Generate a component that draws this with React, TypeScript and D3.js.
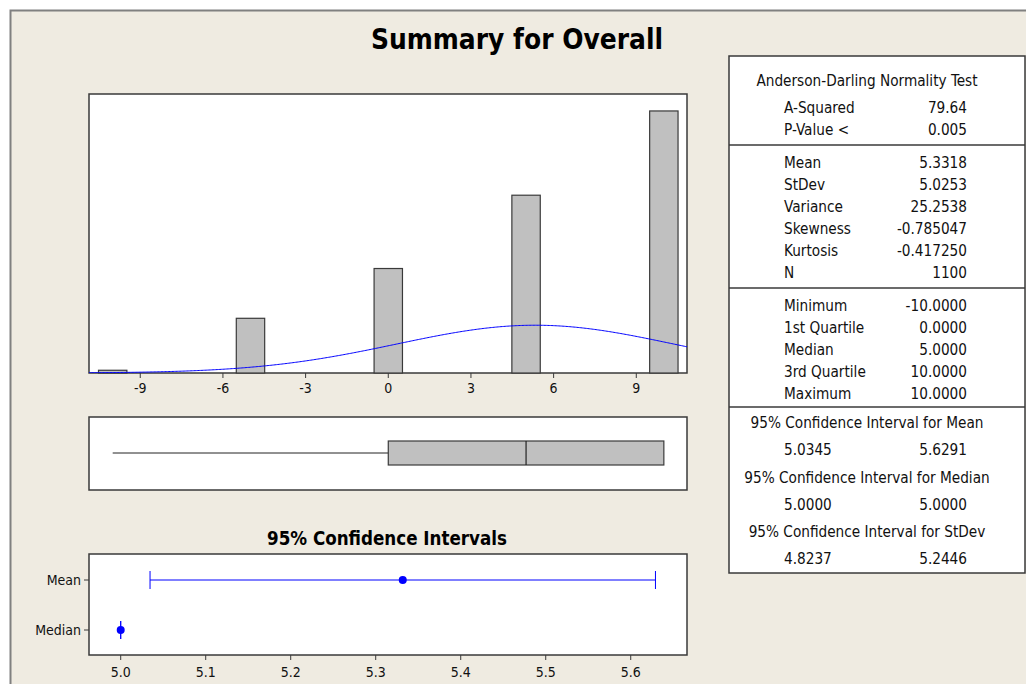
import React from "react";
import * as d3 from "d3";

// ---------- data ----------
const histBins = [-10, -5, 0, 5, 10];
const histCounts = [5, 100, 191, 325, 479];
const histTicks = [-9, -6, -3, 0, 3, 6, 9];
const fitMean = 5.3318;
const fitSd = 5.0253;
const sampleN = 1100;

const boxMin = -10;
const boxQ1 = 0;
const boxMedian = 5;
const boxQ3 = 10;
const boxMax = 10;

const ciCategories = ["Mean", "Median"];
const ciLower = [5.0345, 5.0];
const ciUpper = [5.6291, 5.0];
const ciPoint = [5.3318, 5.0];
const ciTicks = [5.0, 5.1, 5.2, 5.3, 5.4, 5.5, 5.6];

const adTitle = "Anderson-Darling Normality Test";
const adLabels = ["A-Squared", "P-Value <"];
const adValues = ["79.64", "0.005"];
const descLabels = ["Mean", "StDev", "Variance", "Skewness", "Kurtosis", "N"];
const descValues = ["5.3318", "5.0253", "25.2538", "-0.785047", "-0.417250", "1100"];
const quartLabels = ["Minimum", "1st Quartile", "Median", "3rd Quartile", "Maximum"];
const quartValues = ["-10.0000", "0.0000", "5.0000", "10.0000", "10.0000"];
const ciTableTitles = [
  "95% Confidence Interval for Mean",
  "95% Confidence Interval for Median",
  "95% Confidence Interval for StDev",
];
const ciTableLower = ["5.0345", "5.0000", "4.8237"];
const ciTableUpper = ["5.6291", "5.0000", "5.2446"];

// ---------- style ----------
const FONT = "'DejaVu Sans Condensed', 'DejaVu Sans', sans-serif";
const BG = "#EFEBE1";
const FRAME = "#808080";
const BOX = "#3a3a3a";
const BAR = "#C0C0C0";
const BLUE = "#0000FF";
const TXT = "#111111";

export default function App() {
  // histogram
  const hx = d3.scaleLinear().domain([-10.86, 10.84]).range([89, 687]);
  const hy = d3.scaleLinear().domain([0, 510]).range([373, 94]);
  const binHalf = 0.515;
  const pdf = (x: number) =>
    (1 / (fitSd * Math.sqrt(2 * Math.PI))) * Math.exp(-0.5 * ((x - fitMean) / fitSd) ** 2);
  const curveXs = d3.range(-10.86, 10.84 + 0.001, 0.05);
  const curve = d3
    .line<number>()
    .x((d) => hx(d))
    .y((d) => hy(sampleN * 1 * pdf(d)))(curveXs) as string;

  // boxplot
  const boxTop = 441;
  const boxBot = 465;
  const boxMid = (boxTop + boxBot) / 2;

  // CI plot
  const cx = d3.scaleLinear().domain([4.9627, 5.6662]).range([89, 687]);
  const cy = d3.scalePoint<string>().domain(ciCategories).range([580, 630]);
  const fmt = d3.format(".1f");

  // table
  const tL = 729, tR = 1025, tT = 56, tB = 573;
  const tCenter = 867;
  const labelX = 784;
  const valueX = 967;

  return (
    <div style={{ position: "absolute", left: 0, top: 0 }}>
      <svg width={1026} height={684} style={{ display: "block" }} fontFamily={FONT} fontStretch="condensed">
        <rect x={0} y={0} width={1026} height={684} fill="#ffffff" />
        <rect x={10.5} y={10.5} width={1030} height={700} fill={BG} stroke={FRAME} strokeWidth={2} />

        {/* title */}
        <text x={517} y={49} textAnchor="middle" fontSize={27.8} fontWeight="bold" fill="#000">
          Summary for Overall
        </text>

        {/* histogram */}
        <rect x={89} y={94} width={598} height={279} fill="#fff" stroke={BOX} strokeWidth={1.5} />
        <defs>
          <clipPath id="histClip">
            <rect x={89} y={94} width={598} height={279} />
          </clipPath>
        </defs>
        {histBins.map((b, i) => (
          <rect
            key={b}
            x={hx(b - binHalf)}
            y={hy(histCounts[i])}
            width={hx(b + binHalf) - hx(b - binHalf)}
            height={hy(0) - hy(histCounts[i])}
            fill={BAR}
            stroke={BOX}
            strokeWidth={1.2}
          />
        ))}
        <path d={curve} fill="none" stroke={BLUE} strokeWidth={1} clipPath="url(#histClip)" />
        {histTicks.map((t) => (
          <g key={t}>
            <line x1={hx(t)} x2={hx(t)} y1={373} y2={378} stroke={BOX} strokeWidth={1} />
            <text x={hx(t)} y={393} textAnchor="middle" fontSize={14} fill={TXT}>
              {t}
            </text>
          </g>
        ))}

        {/* boxplot */}
        <rect x={89} y={417} width={598} height={73} fill="#fff" stroke={BOX} strokeWidth={1.5} />
        <line x1={hx(boxMin)} x2={hx(boxQ1)} y1={boxMid} y2={boxMid} stroke="#222" strokeWidth={1} />
        <line x1={hx(boxQ3)} x2={hx(boxMax)} y1={boxMid} y2={boxMid} stroke="#222" strokeWidth={1} />
        <rect
          x={hx(boxQ1)}
          y={boxTop}
          width={hx(boxQ3) - hx(boxQ1)}
          height={boxBot - boxTop}
          fill={BAR}
          stroke={BOX}
          strokeWidth={1.2}
        />
        <line x1={hx(boxMedian)} x2={hx(boxMedian)} y1={boxTop} y2={boxBot} stroke="#222" strokeWidth={1.2} />

        {/* CI plot */}
        <text x={387} y={545} textAnchor="middle" fontSize={18.6} fontWeight="bold" fill="#000">
          95% Confidence Intervals
        </text>
        <rect x={89} y={554} width={598} height={101} fill="#fff" stroke={BOX} strokeWidth={1.5} />
        {ciTicks.map((t) => (
          <g key={t}>
            <line x1={cx(t)} x2={cx(t)} y1={655} y2={660} stroke={BOX} strokeWidth={1} />
            <text x={cx(t)} y={677} textAnchor="middle" fontSize={14} fill={TXT}>
              {fmt(t)}
            </text>
          </g>
        ))}
        {ciCategories.map((c, i) => {
          const y = cy(c) as number;
          return (
            <g key={c}>
              <line x1={84} x2={89} y1={y} y2={y} stroke={BOX} strokeWidth={1} />
              <text x={81} y={y} dy="0.35em" textAnchor="end" fontSize={14} fill={TXT}>
                {c}
              </text>
              <line x1={cx(ciLower[i])} x2={cx(ciUpper[i])} y1={y} y2={y} stroke={BLUE} strokeWidth={1} />
              <line x1={cx(ciLower[i])} x2={cx(ciLower[i])} y1={y - 9} y2={y + 9} stroke={BLUE} strokeWidth={1} />
              <line x1={cx(ciUpper[i])} x2={cx(ciUpper[i])} y1={y - 9} y2={y + 9} stroke={BLUE} strokeWidth={1} />
              <circle cx={cx(ciPoint[i])} cy={y} r={4} fill={BLUE} />
            </g>
          );
        })}

        {/* stats table */}
        <rect x={tL} y={tT} width={tR - tL} height={tB - tT} fill="#fff" stroke={BOX} strokeWidth={1.5} />
        <line x1={tL} x2={tR} y1={145} y2={145} stroke={BOX} strokeWidth={1.5} />
        <line x1={tL} x2={tR} y1={288} y2={288} stroke={BOX} strokeWidth={1.5} />
        <line x1={tL} x2={tR} y1={407} y2={407} stroke={BOX} strokeWidth={1.5} />
        <g fontSize={15.2} fill={TXT}>
          <text x={tCenter} y={81} dy="0.35em" textAnchor="middle">
            {adTitle}
          </text>
          {adLabels.map((l, i) => (
            <g key={l}>
              <text x={labelX} y={108 + i * 22} dy="0.35em">{l}</text>
              <text x={valueX} y={108 + i * 22} dy="0.35em" textAnchor="end">{adValues[i]}</text>
            </g>
          ))}
          {descLabels.map((l, i) => (
            <g key={l}>
              <text x={labelX} y={163 + i * 22} dy="0.35em">{l}</text>
              <text x={valueX} y={163 + i * 22} dy="0.35em" textAnchor="end">{descValues[i]}</text>
            </g>
          ))}
          {quartLabels.map((l, i) => (
            <g key={l}>
              <text x={labelX} y={306 + i * 22} dy="0.35em">{l}</text>
              <text x={valueX} y={306 + i * 22} dy="0.35em" textAnchor="end">{quartValues[i]}</text>
            </g>
          ))}
          {ciTableTitles.map((l, i) => (
            <g key={l}>
              <text x={tCenter} y={423 + i * 54.5} dy="0.35em" textAnchor="middle">{l}</text>
              <text x={labelX} y={450 + i * 54.5} dy="0.35em">{ciTableLower[i]}</text>
              <text x={valueX} y={450 + i * 54.5} dy="0.35em" textAnchor="end">{ciTableUpper[i]}</text>
            </g>
          ))}
        </g>
      </svg>
    </div>
  );
}
